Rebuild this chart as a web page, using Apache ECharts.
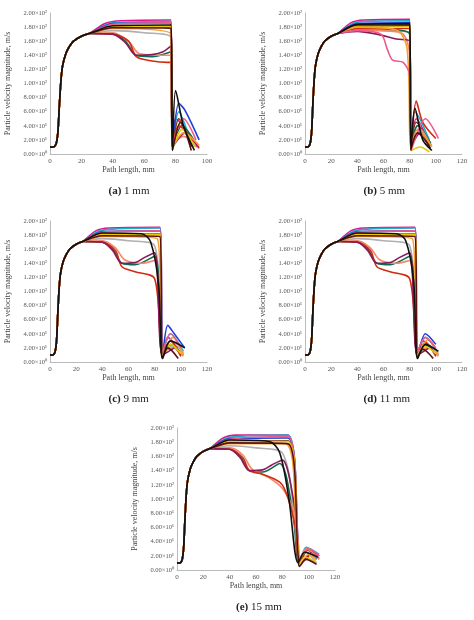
<!DOCTYPE html>
<html><head><meta charset="utf-8">
<script src="https://cdn.jsdelivr.net/npm/echarts@6/dist/echarts.min.js"></script>
<style>html,body{margin:0;background:#fff}#c{width:474px;height:620px}</style>
</head><body><div id="c"></div>
<script>
// shared acceleration segment (all curves overlap here)
const riseX = [0, 2, 3, 4, 5, 6, 7, 8, 10, 12, 15, 20, 25];
const riseY = [10, 10, 11, 15, 30, 70, 105, 125, 142, 151, 160, 167, 171];

const colors = ['#e0158c', '#1ab0c8', '#1f3fd6', '#111111', '#7a3b12', '#b0b0b0',
  '#0f6b4f', '#f08a6a', '#d42a12', '#8a1a5a', '#f5a030', '#ef5a8a', '#e8c800', '#5a1010'];

// per-panel curve tails [x, y] after the common rise
const tailsA = [
  [[35,185],[45,189],[77,190],[78,20],[80,50],[85,40],[90,15],[95,10]],
  [[40,186],[77,188],[78,10],[82,60],[90,20],[94,15]],
  [[40,185],[77,186],[78,10],[82,72],[86,62],[95,20]],
  [[40,182],[77,183],[78,5],[80,90],[85,40],[92,5]],
  [[40,180],[77,180],[78,10],[82,50],[90,10]],
  [[40,175],[60,172],[77,165],[78,10],[85,30],[93,10]],
  [[40,170],[48,160],[55,140],[65,138],[77,145],[78,10],[84,40],[93,15]],
  [[40,172],[50,160],[57,142],[70,140],[77,140],[78,15],[85,25],[93,15]],
  [[40,170],[50,160],[55,138],[65,132],[75,130],[77,130],[78,10],[82,40],[95,8]],
  [[40,170],[48,158],[55,140],[65,141],[72,145],[77,153],[78,10],[86,30],[94,12]],
  [[40,178],[77,170],[78,10],[85,30],[95,12]],
  [[40,184],[77,186],[78,15],[85,50],[93,20]],
  [[40,181],[77,181],[78,8],[84,35],[92,10]],
  [[40,179],[77,178],[78,5],[83,45],[90,5]]
];
const tailsB = [
  [[35,186],[45,190],[80,191],[81,10],[85,50],[95,15]],
  [[40,187],[80,189],[81,10],[84,60],[95,20]],
  [[40,185],[80,186],[81,8],[86,40],[96,15]],
  [[40,184],[80,185],[81,5],[84,65],[90,20],[97,5]],
  [[40,181],[80,182],[81,10],[85,45],[95,10]],
  [[40,176],[60,175],[80,172],[81,10],[88,30],[97,12]],
  [[40,178],[70,176],[80,170],[81,12],[86,40],[96,15]],
  [[40,176],[60,175],[75,170],[80,140],[81,10],[88,35],[96,12]],
  [[40,178],[80,178],[81,10],[85,75],[90,45],[100,22]],
  [[40,174],[55,170],[70,163],[80,160],[81,10],[88,30],[96,12]],
  [[40,180],[70,176],[78,150],[81,10],[86,35],[97,10]],
  [[40,175],[58,170],[63,148],[67,133],[75,130],[80,112],[81,5],[92,50],[102,22]],
  [[40,182],[80,181],[81,5],[88,10],[95,3]],
  [[40,183],[80,183],[81,8],[86,30],[96,8]]
];
const tailsC = [
  [[35,186],[45,190],[84,191],[86,10],[90,35],[100,12]],
  [[40,187],[84,190],[86,10],[92,40],[102,15]],
  [[40,185],[84,186],[86,8],[90,52],[95,40],[103,20]],
  [[40,183],[70,182],[77,170],[83,110],[86,5],[92,30],[103,20]],
  [[40,181],[84,182],[86,10],[92,30],[100,10]],
  [[40,175],[60,172],[80,165],[86,10],[95,25],[102,12]],
  [[40,170],[48,160],[55,140],[65,138],[80,150],[86,10],[92,25],[100,10]],
  [[40,172],[50,162],[57,145],[70,140],[80,144],[86,15],[94,20],[102,8]],
  [[40,170],[50,158],[55,135],[65,128],[80,118],[86,10],[92,30],[100,8]],
  [[40,170],[48,158],[55,140],[65,141],[72,148],[80,155],[86,10],[95,20]],
  [[40,178],[82,175],[86,10],[94,35],[102,10]],
  [[40,184],[84,186],[86,15],[92,40],[100,20]],
  [[40,181],[84,181],[86,8],[92,25],[100,12]],
  [[40,179],[84,178],[86,5],[90,20],[98,5]]
];
const tailsD = [
  [[35,186],[45,190],[84,191],[86,10],[90,30],[100,12]],
  [[40,187],[84,190],[86,10],[92,35],[101,15]],
  [[40,185],[84,186],[86,8],[92,40],[100,25]],
  [[40,183],[70,182],[77,172],[83,115],[86,5],[92,25],[102,15]],
  [[40,181],[84,182],[86,10],[92,25],[100,10]],
  [[40,175],[60,172],[80,165],[86,10],[95,22],[102,12]],
  [[40,170],[48,160],[55,140],[65,138],[80,150],[86,10],[92,25],[100,10]],
  [[40,172],[50,162],[57,145],[70,140],[80,144],[86,15],[94,20],[102,8]],
  [[40,170],[50,158],[55,135],[65,128],[80,118],[86,10],[92,28],[100,8]],
  [[40,170],[48,158],[55,140],[65,141],[72,148],[80,155],[86,10],[95,20]],
  [[40,178],[82,175],[86,10],[94,32],[102,10]],
  [[40,184],[84,186],[86,15],[92,35],[100,20]],
  [[40,181],[84,181],[86,8],[92,22],[100,12]],
  [[40,179],[84,178],[86,5],[90,18],[98,5]]
];
const tailsE = [
  [[35,186],[45,190],[84,190],[91,60],[93,5],[98,30],[108,20]],
  [[40,187],[84,190],[92,30],[93,10],[98,32],[108,22]],
  [[40,185],[84,186],[92,40],[93,8],[98,25],[106,15]],
  [[40,183],[70,181],[78,165],[85,100],[92,10],[97,25],[107,18]],
  [[40,181],[84,182],[92,20],[93,10],[99,28],[108,16]],
  [[40,175],[60,172],[80,165],[90,60],[93,10],[100,20],[106,10]],
  [[40,170],[48,160],[55,140],[65,138],[78,150],[88,80],[93,10],[100,18]],
  [[40,172],[50,162],[57,142],[70,130],[80,115],[88,85],[93,15],[98,30],[108,15]],
  [[40,170],[50,158],[55,140],[65,135],[80,120],[90,60],[93,10],[100,20]],
  [[40,170],[48,158],[55,140],[65,141],[72,148],[80,155],[90,80],[93,10],[102,25]],
  [[40,178],[82,178],[91,50],[93,10],[100,22],[106,14]],
  [[40,184],[84,188],[92,40],[93,15],[100,30],[108,20]],
  [[40,181],[84,181],[92,30],[93,8],[97,18],[105,12]],
  [[40,179],[84,178],[92,20],[93,5],[98,15],[106,8]]
];
const panelTails = [tailsA, tailsB, tailsC, tailsD, tailsE];
const xMaxes = [100, 120, 120, 120, 120];
const captions = [['(a)', '1 mm'], ['(b)', '5 mm'], ['(c)', '9 mm'], ['(d)', '11 mm'], ['(e)', '15 mm']];
const yTicks = [0, 20, 40, 60, 80, 100, 120, 140, 160, 180, 200];

// plot boxes [left, top, width, height] and caption centers
const boxes = [[50, 13, 157, 141], [305, 13, 157, 141], [50, 221, 157, 141], [305, 221, 157, 141], [177, 428, 158, 142]];

const serif = 'Liberation Serif';
function yFmt(v) {
  if (v === 0) return '0.00×10⁰';
  if (v < 100) return (v / 10).toFixed(2) + '×10¹';
  return (v / 100).toFixed(2) + '×10²';
}

const grid = [], xAxis = [], yAxis = [], series = [], graphic = [];
boxes.forEach((b, i) => {
  grid.push({ left: b[0], top: b[1], width: b[2], height: b[3] });
  xAxis.push({
    type: 'value', gridIndex: i, min: 0, max: xMaxes[i], interval: 20,
    name: 'Path length, mm', nameLocation: 'middle', nameGap: 12,
    nameTextStyle: { fontFamily: serif, fontSize: 8, color: '#444' },
    axisLine: { lineStyle: { color: '#bbb' } }, axisTick: { show: false },
    axisLabel: { fontFamily: serif, fontSize: 7, color: '#555', margin: 4 },
    splitLine: { show: false }
  });
  yAxis.push({
    type: 'value', gridIndex: i, min: 0, max: 200, interval: 20,
    name: 'Particle velocity magnitude, m/s', nameLocation: 'middle', nameGap: 38,
    nameTextStyle: { fontFamily: serif, fontSize: 8, color: '#444' },
    axisLine: { show: true, lineStyle: { color: '#bbb' } }, axisTick: { show: false },
    axisLabel: { fontFamily: serif, fontSize: 6.5, color: '#555', margin: 3, formatter: yFmt },
    splitLine: { show: false }
  });
  panelTails[i].forEach((tail, k) => {
    const pts = riseX.map((x, j) => [x, riseY[j]]).concat(tail);
    series.push({
      type: 'line', xAxisIndex: i, yAxisIndex: i, data: pts, smooth: 0.3,
      showSymbol: false, lineStyle: { width: 1.6, color: colors[k] }, z: k === 3 ? 5 : 2,
      silent: true
    });
  });
  graphic.push({
    type: 'text', left: b[0] + b[2] / 2 - 20, top: b[1] + b[3] + 32,
    style: {
      text: '{b|' + captions[i][0] + '} ' + captions[i][1],
      rich: { b: { fontWeight: 'bold', fontFamily: serif, fontSize: 11 } },
      fontFamily: serif, fontSize: 11, fill: '#222'
    }
  });
});

const chart = echarts.init(document.getElementById('c'));
chart.setOption({ animation: false, grid, xAxis, yAxis, series, graphic });
</script></body></html>
